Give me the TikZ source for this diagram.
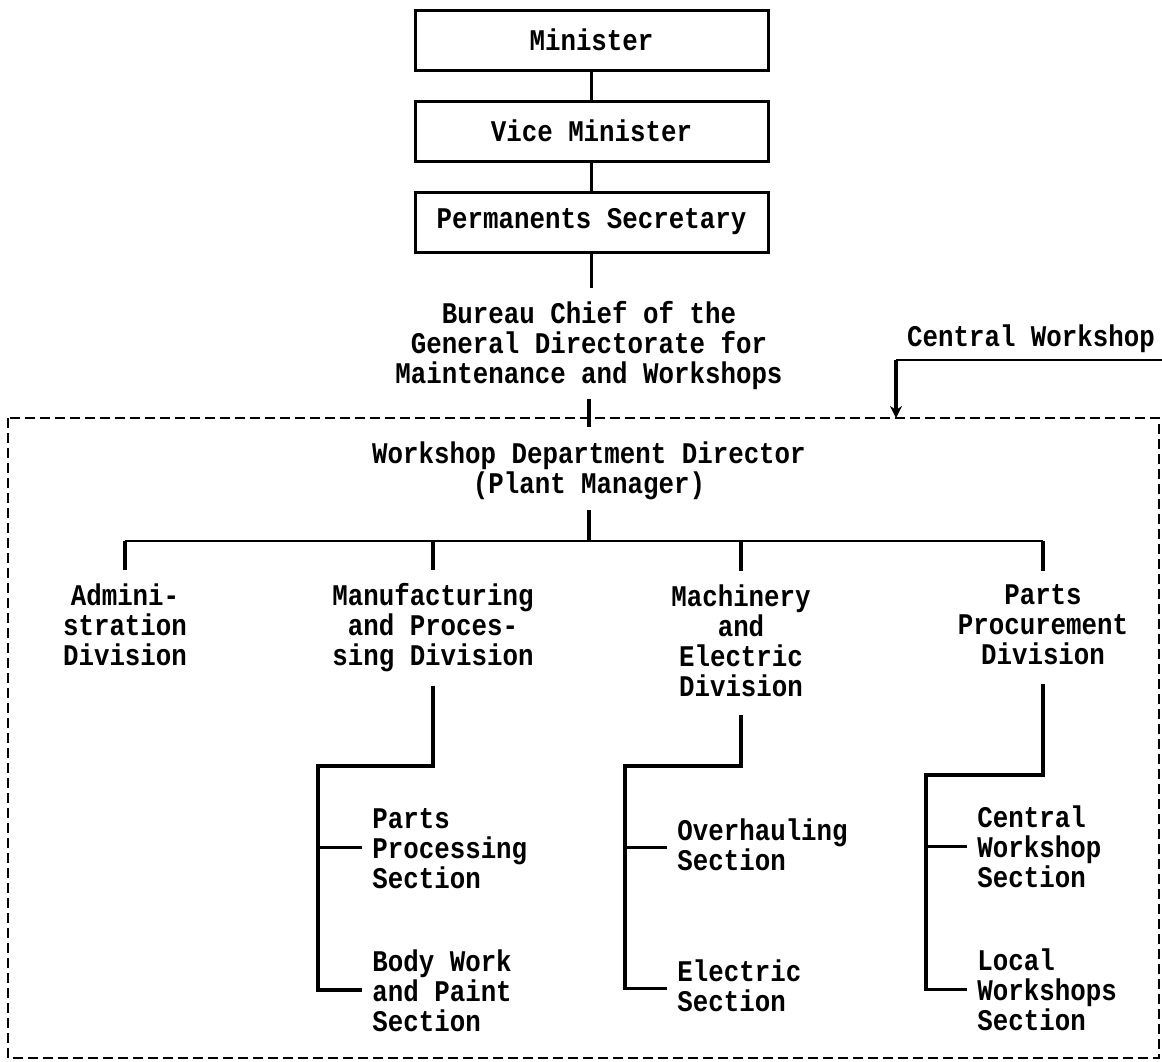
\documentclass[tikz,border=0pt]{standalone}
\usepackage{fontspec}
\setmonofont[FakeStretch=0.86]{Liberation Mono}
\usetikzlibrary{arrows.meta,calc}
\begin{document}
\begin{tikzpicture}[x=0.5pt,y=-0.5pt,
  txt/.style={font=\ttfamily\bfseries\fontsize{15pt}{15pt}\selectfont, inner sep=0pt,
    execute at begin node=\strut, execute at end node=\strut},
  ctxt/.style={txt, align=center},
  sect/.style={txt, align=left, anchor=west, inner xsep=5pt},
  box/.style={draw, line width=1.5pt, minimum width=176.5pt, minimum height=30pt,
    font=\ttfamily\bfseries\fontsize{15pt}{15pt}\selectfont},
  conn/.style={line width=1.6pt},
  hconn/.style={line width=1.1pt},
  frame/.style={line width=1.1pt, dash pattern=on 5pt off 2.5pt}]
\useasboundingbox (0,0) rectangle (1162,1061);

% top boxes
\node[box] (min)  at (591.5,40)  {Minister};
\node[box] (vice) at (591.5,131) {Vice Minister};
\node[box] (perm) at (591.5,222) {Permanents Secretary};

\node[ctxt] (bureau) at (589,346.5) {Bureau Chief of the\\General Directorate for\\Maintenance and Workshops};
\node[ctxt] (cw) at (1031,340.5) {Central Workshop};

\node[ctxt] (wdd) at (589,472.5) {Workshop Department Director\\(Plant Manager)};

% divisions
\node[ctxt] (adm)   at (125,629)  {Admini-\\stration\\Division};
\node[ctxt] (manuf) at (433,629)  {Manufacturing\\and Proces-\\sing Division};
\node[ctxt] (mach)  at (741,645)  {Machinery\\and\\Electric\\Division};
\node[ctxt] (parts) at (1043,629) {Parts\\Procurement\\Division};

% sections
\node[sect] (pps) at (362,852.5) {Parts\\Processing\\Section};
\node[sect] (bwp) at (362,995)   {Body Work\\and Paint\\Section};
\node[sect] (ovh) at (667,849.5) {Overhauling\\Section};
\node[sect] (ele) at (667,990.5) {Electric\\Section};
\node[sect] (cws) at (967,851.5) {Central\\Workshop\\Section};
\node[sect] (lws) at (967,994.5) {Local\\Workshops\\Section};

% frame
\draw[frame] (8,418) rectangle (1159,1058);

% chain of boxes
\draw[conn] (min) -- (vice);
\draw[conn] (vice) -- (perm);
\draw[conn, shorten >=6.25pt] (perm.south) -- (perm.south |- bureau.north);
\draw[conn, shorten <=3.25pt, shorten >=7.25pt] (bureau.south -| wdd.north) -- (wdd.north);

% central workshop pointer
\coordinate (cwR) at (1162,360);
\coordinate (cwL) at (896,360);
\coordinate (cwA) at (896,418);
\draw[hconn] (cwR) -- (cwL);
\draw[conn, -{Stealth[length=6pt,width=6pt]}] (cwL) -- (cwA);

% director to divisions
\coordinate (bar) at (589,541);
\draw[conn, shorten <=3.25pt] (wdd.south) -- (bar);
\draw[hconn] (adm.north |- bar) -- (parts.north |- bar);
\foreach \d in {adm,manuf,mach,parts}
  \draw[conn, shorten >=6.75pt] (\d.north |- bar) -- (\d.north);

% division to sections
\coordinate (mfk) at (318,766);
\coordinate (mck) at (625,766);
\coordinate (pak) at (926,775);
\coordinate (ppsT) at ([yshift=2.5pt]pps.west);
\coordinate (bwpT) at ([yshift=2.5pt]bwp.west);
\coordinate (ovhT) at ([yshift=1pt]ovh.west);
\coordinate (eleT) at ([yshift=1pt]ele.west);
\coordinate (cwsT) at ([yshift=2.5pt]cws.west);
\coordinate (lwsT) at ([yshift=2.5pt]lws.west);

\draw[conn, shorten <=5.25pt] (manuf.south) |- (mfk) |- (bwpT);
\draw[hconn] (ppsT -| mfk) -- (ppsT);
\draw[conn, shorten <=4.75pt] (mach.south) |- (mck) |- (eleT);
\draw[hconn] (ovhT -| mck) -- (ovhT);
\draw[conn, shorten <=5.25pt] (parts.south) |- (pak) |- (lwsT);
\draw[hconn] (cwsT -| pak) -- (cwsT);
\end{tikzpicture}
\end{document}
